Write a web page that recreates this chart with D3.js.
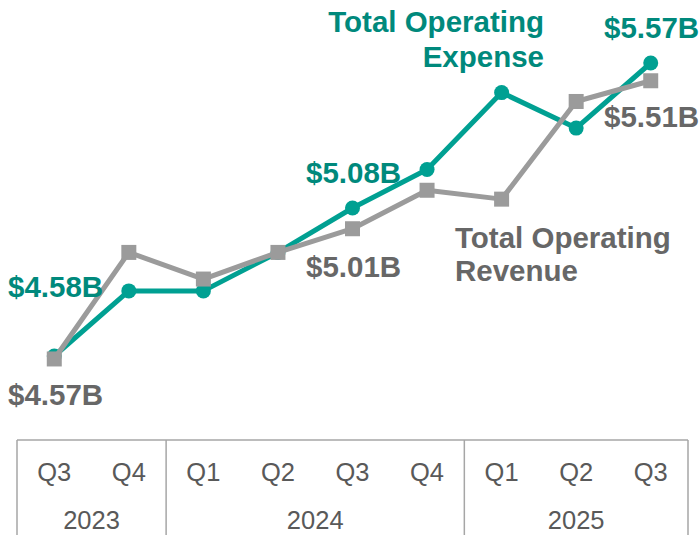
<!DOCTYPE html>
<html>
<head>
<meta charset="utf-8">
<script src="https://cdn.jsdelivr.net/npm/d3@7"></script>
<style>
  body { margin: 0; background: #fff; }
  svg { display: block; font-family: "Liberation Sans", Arial, sans-serif; }
</style>
</head>
<body>
<div id="chart"></div>
<script>
// quarters + years along the bottom
var quarters = ['Q3', 'Q4', 'Q1', 'Q2', 'Q3', 'Q4', 'Q1', 'Q2', 'Q3'];
var years = [
  { label: '2023', from: 0, to: 1 },
  { label: '2024', from: 2, to: 5 },
  { label: '2025', from: 6, to: 8 }
];
// $B
var expense = [4.58, 4.80, 4.80, 4.93, 5.08, 5.21, 5.47, 5.35, 5.57];
var revenue = [4.57, 4.93, 4.84, 4.93, 5.01, 5.14, 5.11, 5.44, 5.51];

var W = 699, H = 535;
var teal = '#00a092', tealText = '#00897c';
var grey = '#9b9b9b', greyText = '#676767';

var svg = d3.select('#chart').append('svg')
  .attr('width', W)
  .attr('height', H);

var idx = d3.range(quarters.length);
var x = d3.scaleBand().domain(idx).range([17, 688]);
var cx = function (i) { return x(i) + x.bandwidth() / 2; };
var y = d3.scaleLinear().domain([4.58, 5.57]).range([356, 63]);

var line = d3.line()
  .x(function (d, i) { return cx(i); })
  .y(function (d) { return y(d); });

// expense under, revenue (grey squares) on top
svg.append('path').datum(expense)
  .attr('d', line).attr('fill', 'none')
  .attr('stroke', teal).attr('stroke-width', 5).attr('stroke-linejoin', 'round');
svg.selectAll('circle.exp').data(expense).enter().append('circle')
  .attr('class', 'exp')
  .attr('cx', function (d, i) { return cx(i); })
  .attr('cy', function (d) { return y(d); })
  .attr('r', 7.5)
  .attr('fill', teal);

svg.append('path').datum(revenue)
  .attr('d', line).attr('fill', 'none')
  .attr('stroke', grey).attr('stroke-width', 5).attr('stroke-linejoin', 'round');
var sq = 15;
svg.selectAll('rect.rev').data(revenue).enter().append('rect')
  .attr('class', 'rev')
  .attr('x', function (d, i) { return cx(i) - sq / 2; })
  .attr('y', function (d) { return y(d) - sq / 2; })
  .attr('width', sq).attr('height', sq)
  .attr('fill', grey);

// value labels
var labels = [
  { t: '$4.58B', x: 8, y: 297, c: tealText, a: 'start' },
  { t: '$4.57B', x: 8, y: 405, c: greyText, a: 'start' },
  { t: '$5.08B', x: 306, y: 183, c: tealText, a: 'start' },
  { t: '$5.01B', x: 306, y: 277, c: greyText, a: 'start' },
  { t: '$5.57B', x: 604, y: 38, c: tealText, a: 'start' },
  { t: '$5.51B', x: 604, y: 127, c: greyText, a: 'start' },
  { t: 'Total Operating', x: 544, y: 32, c: tealText, a: 'end' },
  { t: 'Expense', x: 544, y: 67, c: tealText, a: 'end' },
  { t: 'Total Operating', x: 455, y: 248, c: greyText, a: 'start' },
  { t: 'Revenue', x: 455, y: 281, c: greyText, a: 'start' }
];
svg.selectAll('text.lbl').data(labels).enter().append('text')
  .attr('class', 'lbl')
  .attr('x', function (d) { return d.x; })
  .attr('y', function (d) { return d.y; })
  .attr('text-anchor', function (d) { return d.a; })
  .attr('fill', function (d) { return d.c; })
  .attr('font-size', 29.5)
  .attr('font-weight', 'bold')
  .text(function (d) { return d.t; });

// category table
var tableTop = 440, lineCol = '#a6a6a6';
svg.append('line')
  .attr('x1', x(0)).attr('x2', x(8) + x.bandwidth())
  .attr('y1', tableTop).attr('y2', tableTop)
  .attr('stroke', lineCol).attr('stroke-width', 1.5);

var seps = [x(0)].concat(years.map(function (d) { return x(d.to) + x.bandwidth(); }));
svg.selectAll('line.sep').data(seps).enter().append('line')
  .attr('class', 'sep')
  .attr('x1', function (d) { return d; }).attr('x2', function (d) { return d; })
  .attr('y1', tableTop).attr('y2', H)
  .attr('stroke', lineCol).attr('stroke-width', 1.5);

svg.selectAll('text.q').data(quarters).enter().append('text')
  .attr('class', 'q')
  .attr('x', function (d, i) { return cx(i); })
  .attr('y', 481)
  .attr('text-anchor', 'middle')
  .attr('fill', '#595959')
  .attr('font-size', 25.5)
  .text(function (d) { return d; });

svg.selectAll('text.yr').data(years).enter().append('text')
  .attr('class', 'yr')
  .attr('x', function (d) { return (x(d.from) + x(d.to) + x.bandwidth()) / 2; })
  .attr('y', 529)
  .attr('text-anchor', 'middle')
  .attr('fill', '#595959')
  .attr('font-size', 25.5)
  .text(function (d) { return d.label; });
</script>
</body>
</html>
